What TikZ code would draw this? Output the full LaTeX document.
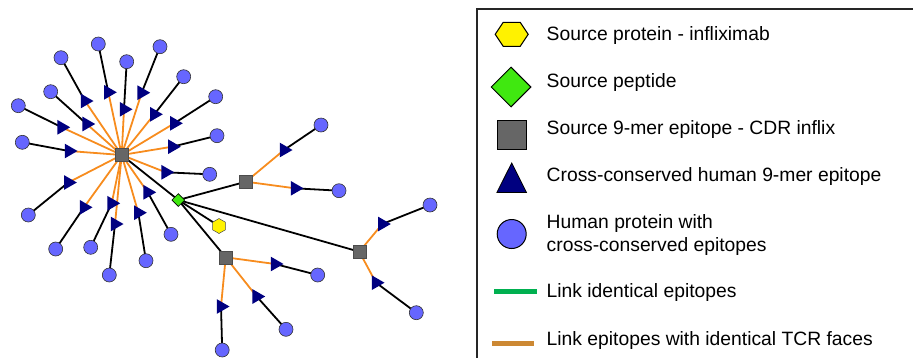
\documentclass[tikz,border=0pt]{standalone}
\usepackage{fontspec}
\setmainfont{Liberation Sans}
\usetikzlibrary{shapes.geometric,backgrounds,calc}
\definecolor{protblue}{RGB}{102,102,255}
\definecolor{epinavy}{RGB}{0,0,128}
\definecolor{srcgray}{RGB}{102,102,102}
\definecolor{pepgreen}{RGB}{64,232,16}
\definecolor{edgeorange}{RGB}{247,140,30}
\definecolor{legorange}{RGB}{204,136,51}
\definecolor{leggreen}{RGB}{0,176,80}
\tikzset{
  prot/.style={circle,fill=protblue,draw=black!80,line width=0.6pt,minimum size=14pt,inner sep=0pt},
  epi/.style={regular polygon,regular polygon sides=3,shape border rotate=-90,fill=epinavy,draw=none,minimum size=17pt,inner sep=0pt},
  src/.style={rectangle,fill=srcgray,draw=black!70,line width=0.6pt,minimum size=13pt,inner sep=0pt},
  pep/.style={diamond,fill=pepgreen,draw=black,line width=0.6pt,minimum size=13pt,inner sep=0pt},
  hexa/.style={regular polygon,regular polygon sides=6,shape border rotate=30,fill=yellow,draw=black!70,line width=0.5pt,minimum size=15pt,inner sep=0pt},
  oe/.style={draw=edgeorange,line width=1.8pt},
  be/.style={draw=black,line width=1.8pt},
  legtext/.style={anchor=base west,inner sep=0pt,font=\fontsize{19.3}{22.7}\selectfont,text=black},
}
\begin{document}
\begin{tikzpicture}[x=1pt,y=-1pt]
\useasboundingbox (0,0) rectangle (913,357);
% central cluster
\node[src] (s1) at (121.7,155) {};
\node[pep] (d) at (178.3,200) {};
\node[hexa] (h) at (219,226) {};
\node[src] (s2) at (246,181.7) {};
\node[src] (s3) at (225.7,257.3) {};
\node[src] (s4) at (359.3,251.7) {};
% epitopes around s1
\foreach \i/\tx/\ty/\cx/\cy in {
 1/85/101/61/57.7,
 2/108.3/92.3/98.3/44,
 3/124/109.3/126.7/61.7,
 4/141.7/92.7/160/46.7,
 5/154.3/114.3/183.7/76.7,
 6/61.7/127.3/18.3/105.7,
 7/86.7/124/50.7/91.7,
 8/174.3/123.3/215.7/96.7,
 9/69/151/22.3/142.3,
 10/172.3/146.7/217/135.7,
 11/165.7/172.3/209.7/174.3,
 12/68.3/182.5/28.3/215,
 13/84/207.3/55.7/249,
 14/111.7/203.3/90.7/247.3,
 15/115/224/109.3/275,
 16/138.3/212.7/146/260.7,
 17/147.7/192.3/171/234.3}{
  \node[epi] (t\i) at (\tx,\ty) {};
  \node[prot] (p\i) at (\cx,\cy) {};
}
% epitopes of s2
\node[epi] (t18) at (284,150) {};
\node[prot] (p18) at (321,125) {};
\node[epi] (t19) at (295,188.3) {};
\node[prot] (p19) at (339,190.7) {};
% epitopes of s3
\node[epi] (t20) at (275,264) {};
\node[prot] (p20) at (317.7,275) {};
\node[epi] (t21) at (256.7,296.5) {};
\node[prot] (p21) at (286,329.3) {};
\node[epi] (t22) at (221,306.5) {};
\node[prot] (p22) at (222.2,350) {};
% epitopes of s4
\node[epi] (t23) at (382.3,224) {};
\node[prot] (p23) at (430,205) {};
\node[epi] (t24) at (376,282.7) {};
\node[prot] (p24) at (416.3,312.7) {};
\begin{pgfonlayer}{background}
\foreach \i in {1,...,17}{
  \draw[oe] (s1.center) -- (t\i.center);
  \draw[be] (t\i.center) -- (p\i.center);
}
\foreach \i in {18,...,24}{\draw[be] (t\i.center) -- (p\i.center);}
\draw[oe] (s2.center) -- (t18.center);
\draw[oe] (s2.center) -- (t19.center);
\draw[oe] (s3.center) -- (t20.center);
\draw[oe] (s3.center) -- (t21.center);
\draw[oe] (s3.center) -- (t22.center);
\draw[oe] (s4.center) -- (t23.center);
\draw[oe] (s4.center) -- (t24.center);
\draw[be] (s1.center) -- (d.center);
\draw[be] (d.center) -- (s2.center);
\draw[be] (d.center) -- (s3.center);
\draw[be] (d.center) -- (s4.center);
\draw[be] (d.center) -- (h.center);
\end{pgfonlayer}
% legend
\draw[line width=1.7pt,draw=black!85] (915,9) -- (477,9) -- (477,360);
\coordinate (lh) at (511.7,34.3);
\draw[fill=yellow,draw=black,line width=1pt] ($(lh)+(-16.5,0)$) -- ($(lh)+(-8.5,-12)$) -- ($(lh)+(8.5,-12)$) -- ($(lh)+(16.5,0)$) -- ($(lh)+(8.5,12)$) -- ($(lh)+(-8.5,12)$) -- cycle;
\node[legtext] (l1) at (546.5,40.5) {Source protein - infliximab};
\node[diamond,fill=pepgreen,draw=black,line width=1pt,minimum size=40pt,inner sep=0pt] (ld) at (511,87) {};
\node[legtext] (l2) at (546.5,87.3) {Source peptide};
\node[rectangle,fill=srcgray,draw=black,line width=1pt,minimum size=28.5pt,inner sep=0pt] (ls) at (512,135) {};
\node[legtext] (l3) at (546.5,134) {Source 9-mer epitope - CDR inflix};
\coordinate (lt) at (511.7,178);
\draw[fill=epinavy,draw=black,line width=0.8pt] ($(lt)+(-14.8,14.5)$) -- ($(lt)+(14.8,14.5)$) -- ($(lt)+(0,-15)$) -- cycle;
\node[legtext] (l4) at (546.5,181) {Cross-conserved human 9-mer epitope};
\node[circle,fill=protblue,draw=black,line width=1pt,minimum size=29pt,inner sep=0pt] (lc) at (511.7,234) {};
\node[legtext] (l5) at (546.5,228.3) {Human protein with};
\node[legtext] (l5b) at (546.5,251) {cross-conserved epitopes};
\coordinate (lg1) at (494.3,291.7);
\coordinate (lg2) at (536.7,291.7);
\draw[draw=leggreen,line width=5pt] (lg1) -- (lg2);
\node[legtext] (l6) at (546.5,297.7) {Link identical epitopes};
\coordinate (lo1) at (492.3,343);
\coordinate (lo2) at (534.3,343);
\draw[draw=legorange,line width=5pt] (lo1) -- (lo2);
\node[legtext] (l7) at (546.5,345) {Link epitopes with identical TCR faces};
\end{tikzpicture}
\end{document}
